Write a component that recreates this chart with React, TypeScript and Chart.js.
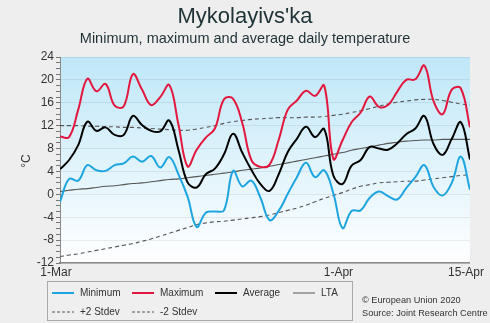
import React, { useEffect, useRef } from 'react';
import { Chart, registerables } from 'chart.js';

Chart.register(...registerables);

const titleText = "Mykolayivs'ka";
const subtitleText = 'Minimum, maximum and average daily temperature';
const yTitle = '°C';
const xTickDays = [0, 31, 45];
const xTickLabels = ['1-Mar', '1-Apr', '15-Apr'];

const minT = [-1.3, 2.7, 2.4, 5.1, 4.2, 4.1, 5.1, 5.4, 6.6, 5.7,
  6.7, 4.7, 6.5, 3.5, -0.4, -5.7, -3.2, -3.0, -2.8, 4.1,
  1.4, 2.4, -0.6, -4.5, -2.9, 0.1, 3.0, 5.5, 3.0, 4.2,
  0.2, -5.9, -2.9, -2.8, -0.6, 0.5, -0.3, -0.9, 1.1, 3.0,
  5.1, 1.3, -0.2, 2.0, 6.6, 0.8];
const maxT = [10.1, 10.0, 14.8, 20.2, 18.0, 19.3, 15.5, 15.4, 21.0, 18.3,
  15.6, 17.0, 19.1, 12.2, 4.9, 7.8, 9.9, 11.5, 16.6, 16.7,
  12.5, 6.0, 4.8, 5.2, 9.5, 14.8, 16.4, 18.1, 17.2, 19.0,
  6.2, 9.4, 12.6, 14.3, 17.1, 15.3, 15.6, 17.9, 20.0, 20.1,
  22.5, 16.3, 14.0, 18.3, 18.5, 11.7];
const avgT = [4.4, 6.0, 8.6, 12.7, 11.1, 11.7, 10.4, 10.4, 13.7, 12.1,
  11.1, 11.0, 12.9, 7.8, 2.1, 1.2, 3.5, 4.5, 7.0, 10.6,
  7.3, 4.3, 1.8, 0.6, 3.5, 7.4, 9.7, 11.8, 10.0, 11.4,
  3.3, 1.8, 5.0, 6.0, 8.3, 8.0, 7.8, 8.9, 10.5, 11.5,
  13.7, 8.8, 6.9, 9.7, 12.6, 6.1];
const ltaT = [0.5, 0.7, 0.9, 1.0, 1.2, 1.4, 1.5, 1.7, 1.9, 2.0,
  2.2, 2.4, 2.6, 2.7, 2.9, 3.1, 3.3, 3.5, 3.7, 3.9,
  4.2, 4.4, 4.6, 4.9, 5.2, 5.5, 5.8, 6.1, 6.4, 6.7,
  7.0, 7.3, 7.7, 8.0, 8.3, 8.6, 8.9, 9.1, 9.3, 9.4,
  9.5, 9.5, 9.6, 9.6, 9.6, 9.6];
const plus2 = [12.0, 12.0, 12.0, 11.9, 11.9, 11.8, 11.8, 11.7, 11.7, 11.6,
  11.5, 11.4, 11.3, 11.2, 11.2, 11.4, 11.7, 12.0, 12.4, 12.7,
  12.9, 13.1, 13.2, 13.3, 13.4, 13.4, 13.4, 13.5, 13.5, 13.6,
  13.8, 14.0, 14.3, 14.6, 15.0, 15.4, 15.8, 16.1, 16.3, 16.5,
  16.6, 16.6, 16.4, 16.1, 15.8, 15.6];
const minus2 = [-10.9, -10.6, -10.4, -10.1, -9.8, -9.5, -9.2, -8.9, -8.6, -8.2,
  -7.8, -7.3, -6.8, -6.3, -5.8, -5.3, -5.0, -4.8, -4.7, -4.5,
  -4.3, -4.1, -3.9, -3.6, -3.2, -2.8, -2.4, -1.9, -1.3, -0.7,
  -0.2, 0.3, 0.9, 1.4, 1.7, 2.0, 2.1, 2.2, 2.3, 2.3,
  2.5, 2.7, 2.9, 3.1, 3.3, 3.4];

const legendRow1 = ['Minimum', 'Maximum', 'Average', 'LTA'];
const legendRow2 = ['+2 Stdev', '-2 Stdev'];
const creditLines = ['© European Union 2020', 'Source: Joint Research Centre'];

const C_MIN = '#1ea5e0';
const C_MAX = '#e3173d';
const C_AVG = '#000000';
const C_LTA = '#555555';
const C_STD = '#555555';
const FONT = "'Liberation Sans', Arial, sans-serif";

const toXY = (arr: number[]) => arr.map((v, i) => ({ x: i, y: v }));

const decorPlugin = {
  id: 'decor',
  beforeDraw(chart: any) {
    const { ctx, chartArea, width, height } = chart;
    ctx.save();
    ctx.fillStyle = '#eeeeee';
    ctx.fillRect(0, 0, width, height);
    const g = ctx.createLinearGradient(0, chartArea.top, 0, chartArea.bottom);
    g.addColorStop(0, '#bfe7f8');
    g.addColorStop(1, '#ffffff');
    ctx.fillStyle = g;
    ctx.fillRect(chartArea.left, chartArea.top, chartArea.right - chartArea.left, chartArea.bottom - chartArea.top);
    ctx.restore();
  },
  afterDraw(chart: any) {
    const { ctx } = chart;
    ctx.save();
    ctx.fillStyle = '#1f3236';
    ctx.textAlign = 'center';
    ctx.textBaseline = 'alphabetic';
    ctx.font = `22px ${FONT}`;
    ctx.fillText(titleText, 245, 22.5);
    ctx.font = `14.5px ${FONT}`;
    ctx.fillText(subtitleText, 245, 43.3);
    ctx.save();
    ctx.translate(27, 161);
    ctx.rotate(-Math.PI / 2);
    ctx.font = `12px ${FONT}`;
    ctx.fillStyle = '#333';
    ctx.textBaseline = 'middle';
    ctx.fillText(yTitle, 0, 0);
    ctx.restore();
    ctx.fillStyle = '#efefef';
    ctx.fillRect(47.5, 281.5, 305, 39);
    ctx.strokeStyle = '#aaaaaa';
    ctx.lineWidth = 1;
    ctx.strokeRect(47.5, 281.5, 305, 39);
    const items = [
      { label: legendRow1[0], color: C_MIN, w: 2, dash: [] as number[], x: 52, y: 293 },
      { label: legendRow1[1], color: C_MAX, w: 2, dash: [] as number[], x: 132, y: 293 },
      { label: legendRow1[2], color: C_AVG, w: 2, dash: [] as number[], x: 215, y: 293 },
      { label: legendRow1[3], color: C_LTA, w: 1, dash: [] as number[], x: 293, y: 293 },
      { label: legendRow2[0], color: C_STD, w: 1, dash: [3, 2], x: 52, y: 312 },
      { label: legendRow2[1], color: C_STD, w: 1, dash: [3, 2], x: 132, y: 312 },
    ];
    ctx.font = `10px ${FONT}`;
    ctx.textAlign = 'left';
    ctx.textBaseline = 'middle';
    for (const it of items) {
      ctx.beginPath();
      ctx.setLineDash(it.dash);
      ctx.strokeStyle = it.color;
      ctx.lineWidth = it.w;
      ctx.moveTo(it.x, it.y);
      ctx.lineTo(it.x + 22, it.y);
      ctx.stroke();
      ctx.setLineDash([]);
      ctx.fillStyle = '#333';
      ctx.fillText(it.label, it.x + 28, it.y);
    }
    ctx.fillStyle = '#333';
    ctx.font = `9.2px ${FONT}`;
    ctx.fillText(creditLines[0], 362, 300);
    ctx.fillText(creditLines[1], 362, 313.5);
    ctx.restore();
  },
};

export default function App() {
  const ref = useRef<HTMLCanvasElement | null>(null);
  useEffect(() => {
    document.body.style.margin = '0';
    document.body.style.background = '#eeeeee';
    const canvas = ref.current;
    if (!canvas) return;
    const line = (label: string, data: number[], color: string, width: number, dash: number[] = []) => ({
      label,
      data: toXY(data),
      borderColor: color,
      backgroundColor: color,
      borderWidth: width,
      borderDash: dash,
      pointRadius: 0,
      tension: 0.4,
      fill: false,
    });
    const chart = new Chart(canvas, {
      type: 'line',
      data: {
        datasets: [
          line('Average', avgT, C_AVG, 2),
          line('Maximum', maxT, C_MAX, 2),
          line('Minimum', minT, C_MIN, 2),
          line('LTA', ltaT, C_LTA, 1.1),
          line('+2 Stdev', plus2, C_STD, 1.1, [4, 3]),
          line('-2 Stdev', minus2, C_STD, 1.1, [4, 3]),
        ] as any,
      },
      options: {
        animation: false,
        responsive: true,
        maintainAspectRatio: false,
        layout: { padding: { top: 57, right: 18, left: 0, bottom: 0 } },
        plugins: {
          legend: { display: false },
          title: { display: false },
          tooltip: { enabled: false },
        },
        scales: {
          x: {
            type: 'linear',
            min: 0,
            max: 45,
            afterBuildTicks: (s: any) => {
              s.ticks = xTickDays.map((v) => ({ value: v }));
            },
            afterFit: (s: any) => {
              s.height = 60;
            },
            ticks: {
              autoSkip: false,
              maxRotation: 0,
              padding: 2,
              labelOffset: -4,
              color: '#333',
              font: { family: FONT, size: 12 },
              callback: (v: any) => {
                const i = xTickDays.indexOf(Number(v));
                return i >= 0 ? xTickLabels[i] : '';
              },
            },
            grid: { display: false, drawTicks: false },
            border: { display: true, color: '#8a8a8a', width: 1.5 },
          },
          y: {
            min: -12,
            max: 24,
            afterFit: (s: any) => {
              s.width = 60;
            },
            ticks: {
              stepSize: 1,
              autoSkip: false,
              padding: 2,
              color: '#333',
              font: { family: FONT, size: 12 },
              callback: (v: any) => (Number(v) % 4 === 0 ? String(v) : ''),
            },
            grid: {
              color: (c: any) => (c.tick && c.tick.value % 4 === 0 ? 'rgba(0,0,0,0.07)' : 'rgba(0,0,0,0)'),
              tickColor: '#777',
              tickLength: 4,
              drawTicks: true,
            },
            border: { display: true, color: '#8a8a8a', width: 1 },
          },
        },
      },
      plugins: [decorPlugin],
    } as any);
    return () => chart.destroy();
  }, []);
  return (
    <div style={{ width: 490, height: 323, position: 'relative' }}>
      <canvas ref={ref} />
    </div>
  );
}
